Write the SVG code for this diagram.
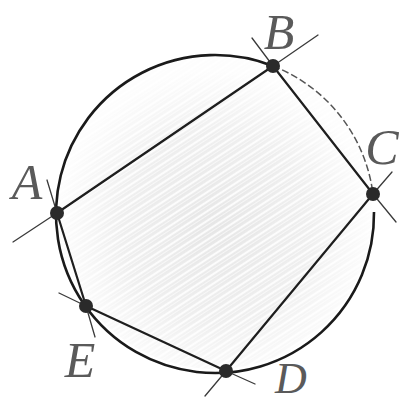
<svg xmlns="http://www.w3.org/2000/svg" width="402" height="403" viewBox="0 0 402 403">
<style>
.edge{fill:none;stroke:#1e1e1e;stroke-width:2.2;stroke-linecap:round}
.tick{stroke:#3a3a3a;stroke-width:1.3;stroke-linecap:round}
.dot{fill:#2a2a2a}
.lbl{fill:#5a5a5a;text-anchor:middle}
</style>
<defs>
<radialGradient id="shade" cx="0.5" cy="0.55" r="0.5">
<stop offset="0" stop-color="#e6e6e6"/>
<stop offset="0.6" stop-color="#efefef"/>
<stop offset="1" stop-color="#fdfdfd"/>
</radialGradient>
<pattern id="streaks" width="16" height="8" patternUnits="userSpaceOnUse" patternTransform="rotate(-33)">
<line x1="0" y1="2" x2="16" y2="2" stroke="#ffffff" stroke-width="2.2" opacity="0.85"/>
<line x1="0" y1="5.5" x2="16" y2="5.5" stroke="#ffffff" stroke-width="1" opacity="0.6"/>
</pattern>
</defs>
<rect width="402" height="403" fill="#ffffff"/>
<g id="circle">
<circle cx="215" cy="212" r="157" fill="url(#shade)"/>
<circle cx="215" cy="212" r="157" fill="url(#streaks)"/>
<path d="M 374 212 A 159 159 0 1 1 273 66" fill="none" stroke="#1a1a1a" stroke-width="2.6"/>
<path d="M 273 66 A 159 159 0 0 1 373 194" fill="none" stroke="#555" stroke-width="1.5" stroke-dasharray="7 3"/>
</g>
<g id="connectors">
<line class="edge" x1="57" y1="213" x2="273" y2="66"/>
<line class="edge" x1="273" y1="66" x2="373" y2="194"/>
<line class="edge" x1="373" y1="194" x2="226" y2="371"/>
<line class="edge" x1="226" y1="371" x2="86" y2="306"/>
<line class="edge" x1="86" y1="306" x2="57" y2="213"/>
</g>
<g id="A">
<line class="tick" x1="57" y1="213" x2="13" y2="242"/>
<line class="tick" x1="57" y1="213" x2="47" y2="180"/>
<circle class="dot" cx="57" cy="213" r="7"/>
<text class="lbl" x="27" y="199" font-family="Liberation Serif, DejaVu Serif, serif" font-style="italic" font-size="50">A</text>
</g>
<g id="B">
<line class="tick" x1="273" y1="66" x2="252" y2="38"/>
<line class="tick" x1="273" y1="66" x2="318" y2="35"/>
<circle class="dot" cx="273" cy="66" r="7"/>
<text class="lbl" x="279" y="49" font-family="Liberation Serif, DejaVu Serif, serif" font-style="italic" font-size="50">B</text>
</g>
<g id="C">
<line class="tick" x1="373" y1="194" x2="392" y2="172"/>
<line class="tick" x1="373" y1="194" x2="396" y2="222"/>
<circle class="dot" cx="373" cy="194" r="7"/>
<text class="lbl" x="382" y="164" font-family="Liberation Serif, DejaVu Serif, serif" font-style="italic" font-size="50">C</text>
</g>
<g id="D">
<line class="tick" x1="226" y1="371" x2="205" y2="396"/>
<line class="tick" x1="226" y1="371" x2="255" y2="384"/>
<circle class="dot" cx="226" cy="371" r="7"/>
<text class="lbl" x="291" y="393" font-family="Liberation Serif, DejaVu Serif, serif" font-style="italic" font-size="44">D</text>
</g>
<g id="E">
<line class="tick" x1="86" y1="306" x2="59" y2="293"/>
<line class="tick" x1="86" y1="306" x2="95" y2="337"/>
<circle class="dot" cx="86" cy="306" r="7"/>
<text class="lbl" x="80" y="377" font-family="Liberation Serif, DejaVu Serif, serif" font-style="italic" font-size="50">E</text>
</g>
</svg>
